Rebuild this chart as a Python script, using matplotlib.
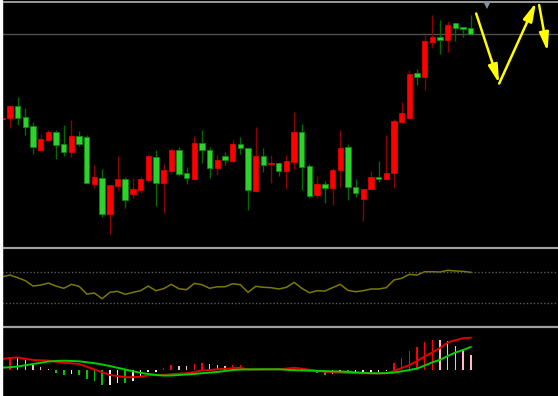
import numpy as np
import matplotlib
matplotlib.use('Agg')
import matplotlib.pyplot as plt

# candles: open, high, low, close (red = up, green = down)
opens = [3262, 3264, 3289, 3267, 3248, 3201, 3221, 3237, 3212, 3197,
         3229, 3227, 3133, 3145, 3073, 3129, 3142, 3112, 3120, 3141,
         3187, 3135, 3159, 3200, 3155, 3143, 3215, 3201, 3165, 3189,
         3179, 3213, 3205, 3119, 3188, 3173, 3175, 3159, 3177, 3237,
         3168, 3110, 3132, 3125, 3161, 3206, 3127, 3103, 3123, 3147,
         3143, 3155, 3257, 3265, 3355, 3347, 3417, 3427, 3421, 3455,
         3447, 3444]
highs = [3264, 3290, 3307, 3285, 3256, 3232, 3240, 3240, 3250, 3260,
         3238, 3231, 3170, 3163, 3130, 3189, 3147, 3145, 3147, 3193,
         3200, 3173, 3205, 3207, 3167, 3228, 3240, 3207, 3190, 3197,
         3220, 3227, 3205, 3247, 3205, 3190, 3177, 3190, 3277, 3252,
         3173, 3148, 3138, 3165, 3240, 3212, 3142, 3123, 3158, 3178,
         3230, 3263, 3297, 3360, 3362, 3430, 3470, 3460, 3458, 3455,
         3447, 3470]
lows = [3262, 3244, 3251, 3230, 3193, 3201, 3219, 3182, 3189, 3187,
        3209, 3135, 3125, 3067, 3033, 3120, 3085, 3105, 3115, 3137,
        3088, 3075, 3153, 3149, 3133, 3141, 3175, 3145, 3151, 3171,
        3176, 3193, 3080, 3119, 3157, 3135, 3149, 3123, 3163, 3121,
        3105, 3105, 3095, 3091, 3127, 3100, 3107, 3058, 3122, 3137,
        3140, 3125, 3255, 3265, 3331, 3320, 3405, 3393, 3397, 3418,
        3427, 3433]
closes = [3264, 3288, 3265, 3247, 3207, 3223, 3237, 3211, 3196, 3228,
          3213, 3135, 3146, 3073, 3130, 3142, 3101, 3122, 3142, 3188,
          3135, 3160, 3201, 3153, 3145, 3215, 3200, 3165, 3181, 3180,
          3213, 3205, 3120, 3189, 3171, 3175, 3158, 3178, 3237, 3167,
          3109, 3133, 3125, 3161, 3205, 3126, 3115, 3123, 3147, 3142,
          3155, 3258, 3275, 3353, 3346, 3418, 3427, 3420, 3449, 3445,
          3443, 3433]

# RSI-like oscillator
rsi = [63.5, 65.7, 62.3, 58.4, 51.5, 52.8, 55.4, 51.5, 48.6, 53.7,
       51.2, 41.2, 42.5, 35.2, 43.4, 44.7, 40.8, 43.4, 45.5, 51.5,
       45.5, 48.1, 53.7, 48.1, 46.8, 55.0, 53.2, 48.6, 50.6, 50.6,
       54.5, 53.2, 43.4, 51.2, 49.9, 49.4, 47.7, 49.9, 56.3, 48.6,
       42.9, 45.5, 45.1, 49.4, 53.7, 46.0, 44.2, 45.5, 47.7, 47.7,
       49.4, 59.3, 61.5, 66.6, 65.7, 70.0, 70.0, 69.6, 71.8, 70.9,
       70.5, 69.2]
rsi_levels = [70, 30]

# MACD
dif = [1.07, 1.17, 1.22, 1.09, 0.97, 0.94, 0.91, 0.80, 0.70, 0.64,
       0.57, 0.30, 0.02, -0.26, -0.53, -0.63, -0.75, -0.75, -0.70, -0.56,
       -0.53, -0.51, -0.46, -0.39, -0.36, -0.23, -0.08, -0.03, 0.04, 0.09,
       0.14, 0.19, 0.02, 0.01, 0.03, 0.04, 0.04, 0.11, 0.19, 0.10,
       -0.01, -0.11, -0.20, -0.26, -0.29, -0.33, -0.35, -0.36, -0.36, -0.36,
       -0.36, -0.13, 0.17, 0.45, 0.87, 1.32, 1.74, 2.17, 2.72, 2.95,
       3.14, 3.20]
dea = [0.20, 0.25, 0.32, 0.44, 0.57, 0.69, 0.82, 0.87, 0.90, 0.87,
       0.84, 0.74, 0.65, 0.52, 0.37, 0.19, 0.02, -0.16, -0.31, -0.43,
       -0.53, -0.59, -0.58, -0.53, -0.48, -0.43, -0.35, -0.29, -0.23, -0.13,
       -0.03, 0.01, 0.03, 0.04, 0.04, 0.04, 0.04, -0.01, -0.05, -0.07,
       -0.09, -0.12, -0.14, -0.16, -0.18, -0.22, -0.27, -0.31, -0.35, -0.36,
       -0.34, -0.29, -0.16, -0.03, 0.12, 0.42, 0.74, 0.99, 1.37, 1.72,
       1.97, 2.27]
hist = [1.10, 1.30, 1.25, 1.00, 0.50, 0.27, 0.10, -0.30, -0.50, -0.47,
        -0.53, -0.93, -1.17, -1.57, -1.53, -1.33, -1.35, -1.17, -0.67, -0.23,
        -0.20, 0.17, 0.43, 0.37, 0.33, 0.57, 0.70, 0.53, 0.50, 0.37,
        0.50, 0.52, -0.03, -0.02, -0.01, 0.01, 0.01, 0.15, 0.17, 0.10,
        -0.20, -0.37, -0.50, -0.40, -0.30, -0.37, -0.33, -0.30, -0.27, -0.20,
        -0.10, 0.67, 1.17, 1.90, 2.27, 2.77, 3.00, 2.93, 2.83, 2.40,
        2.07, 1.50]

# forecast zigzag arrows (bar index, price)
arrows = [((61.7, 3473), (64.7, 3333)),
          ((64.7, 3333), (69.5, 3495)),
          ((69.9, 3490), (71.0, 3397))]
now_x = 63.1

o = np.array(opens, float)
h = np.array(highs, float)
l = np.array(lows, float)
c = np.array(closes, float)
x = np.arange(len(o))
up = c >= o

W, H = 558, 396
fig = plt.figure(figsize=(W/100, H/100), dpi=100, facecolor='black')
fig.patches.append(plt.Rectangle((0, 0), 2/W, 1, transform=fig.transFigure,
                                 color='white', zorder=0))

def make_ax(top, bottom):
    return fig.add_axes([2/W, 1 - bottom/H, (W-2)/W, (bottom-top)/H])

ax1 = make_ax(2, 247)
ax2 = make_ax(247.9, 326)
ax3 = make_ax(327, 396)

for ax, lw, col in [(ax1, 1.2, '#b4b4b4'), (ax2, 1.6, '#a0a0a0'), (ax3, 1.6, '#a0a0a0')]:
    ax.set_facecolor('black')
    for s in ['left', 'right', 'bottom']:
        ax.spines[s].set_visible(False)
    ax.spines['top'].set_color(col)
    ax.spines['top'].set_linewidth(lw)
    ax.set_xticks([])
    ax.set_yticks([])
    ax.set_xlim(-0.04, 72.36)

# candles
wick_col = np.where(up, '#8c0000', '#006a00')
body_col = np.where(up, '#ff0000', '#2fd12f')
edge_col = np.where(up, '#e00000', '#0a8a0a')
ax1.vlines(x, l, h, colors=wick_col, linewidth=1.0, zorder=2)
body_lo = np.minimum(o, c)
body_h = np.maximum(np.abs(c - o), 1.5)
ax1.bar(x, body_h, bottom=body_lo, width=0.7, color=body_col,
        edgecolor=edge_col, linewidth=0.6, zorder=3)
ax1.axhline(c[-1], color='#505050', linewidth=1.0, zorder=1)
ax1.set_ylim(3006, 3496)

for start, end in arrows:
    ax1.annotate('', xy=end, xytext=start, annotation_clip=False,
                 arrowprops=dict(arrowstyle='-|>,head_length=1.1,head_width=0.28',
                                 color='#ffff00', lw=1.8, shrinkA=0, shrinkB=0,
                                 mutation_scale=10))
ax1.plot([now_x], [3491], marker='v', markersize=6, color='#8a8f99',
         markeredgewidth=0, clip_on=False, zorder=5)

# oscillator
ax2.plot(x, rsi, color='#7d7800', linewidth=1.1)
for lev in rsi_levels:
    ax2.axhline(lev, color='#5a5a5a', linewidth=1.0, linestyle=(0, (1, 1.5)))
ax2.set_ylim(0, 100.7)

# MACD histogram colours from sign and direction
hv = np.array(hist)
prev = np.concatenate([[hv[0]], hv[:-1]])
cols = []
for v, p in zip(hv, prev):
    if v >= 0:
        cols.append('#ff0000' if v >= p else '#ffb8c4')
    else:
        cols.append('#00c800' if v < p else '#f0f0f0')
ax3.bar(x, hv, width=0.2, color=cols, zorder=2)
ax3.plot(x, dif, color='#e00000', linewidth=1.4, zorder=3)
ax3.plot(x, dea, color='#00d000', linewidth=1.4, zorder=3)
ax3.set_ylim(-2.63, 4.27)

plt.savefig('out.png', dpi=100, facecolor='black')
